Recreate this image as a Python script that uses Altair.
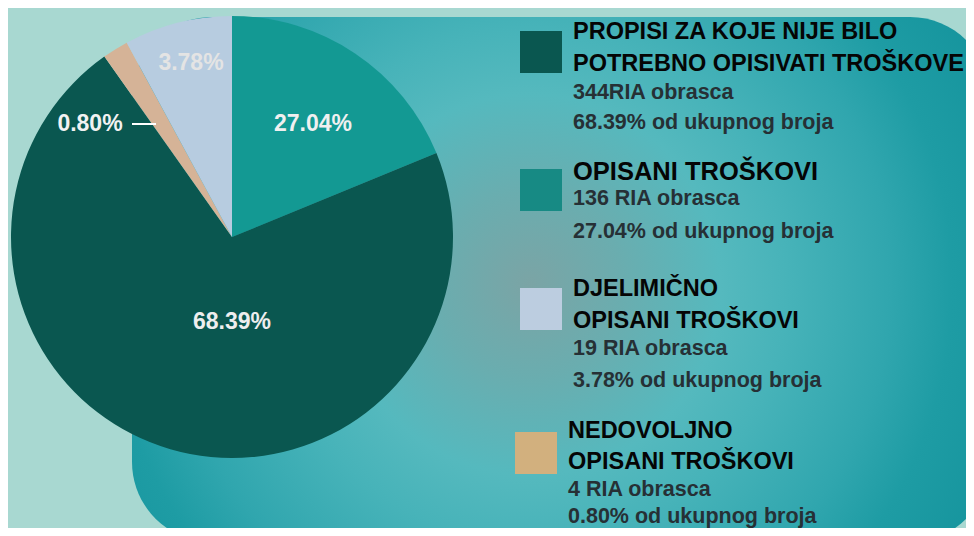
import altair as alt
import pandas as pd

# ---------------- data ----------------
# pie slices in drawing order (clockwise from 12 o'clock)
slice_names = ["OPISANI TROŠKOVI", "PROPISI ZA KOJE NIJE BILO POTREBNO OPISIVATI TROŠKOVE",
               "NEDOVOLJNO OPISANI TROŠKOVI", "DJELIMIČNO OPISANI TROŠKOVI"]
slice_share = [18.8, 71.4, 1.9, 7.9]          # share of the circle as drawn
slice_labels = ["27.04%", "68.39%", "0.80%", "3.78%"]
slice_colors = ["#139993", "#0a5750", "#d5b397", "#b7cce0"]
slice_label_colors = ["#f0f0f0", "#eeeeee", "#f2f2f2", "#e4e4e4"]

# legend entries (top to bottom)
legend_titles = [["PROPISI ZA KOJE NIJE BILO", "POTREBNO OPISIVATI TROŠKOVE"],
                 ["OPISANI TROŠKOVI"],
                 ["DJELIMIČNO", "OPISANI TROŠKOVI"],
                 ["NEDOVOLJNO", "OPISANI TROŠKOVI"]]
legend_counts = ["344RIA obrasca", "136 RIA obrasca", "19 RIA obrasca", "4 RIA obrasca"]
legend_pcts = ["68.39% od ukupnog broja", "27.04% od ukupnog broja",
               "3.78% od ukupnog broja", "0.80% od ukupnog broja"]
legend_colors = ["#0a5750", "#178a84", "#bccde0", "#d2b07e"]

# ---------------- layout (page pixels, converted to chart pixels) ----------------
M = 8  # page margin
W, H = 958, 520
FONT = "Liberation Sans"

pie_cx, pie_cy, pie_r = 232, 237, 221
label_pos = [(313, 124), (232, 322), (90, 124), (191, 63)]

sq_pos = [(520, 31), (520, 169), (520, 288), (515, 432)]
SQ = 42
text_x = [573, 573, 573, 568]
title_baselines = [[39, 71], [180], [296, 328], [438, 469]]
count_baselines = [99, 205, 355, 496]
pct_baselines = [129, 238, 387, 523]
title_sizes = [23.5, 25.5, 23.5, 23.5]

# ---------------- frames ----------------
pie_df = pd.DataFrame({
    "name": slice_names,
    "share": slice_share,
    "color": slice_colors,
    "order": list(range(len(slice_names))),
})

lab_df = pd.DataFrame({
    "label": slice_labels,
    "color": slice_label_colors,
    "x": [p[0] - M for p in label_pos],
    "y": [p[1] - M for p in label_pos],
})

sq_df = pd.DataFrame({
    "x": [p[0] - M for p in sq_pos],
    "x2": [p[0] - M + SQ for p in sq_pos],
    "y": [p[1] - M for p in sq_pos],
    "y2": [p[1] - M + SQ for p in sq_pos],
    "color": legend_colors,
})

rows = []
for i in range(4):
    for t, b in zip(legend_titles[i], title_baselines[i]):
        rows.append({"text": t, "x": text_x[i] - M, "y": b - M, "kind": "title", "size": title_sizes[i]})
    rows.append({"text": legend_counts[i], "x": text_x[i] - M, "y": count_baselines[i] - M, "kind": "sub", "size": 21.5})
    rows.append({"text": legend_pcts[i], "x": text_x[i] - M, "y": pct_baselines[i] - M, "kind": "sub", "size": 21.5})
leg_df = pd.DataFrame(rows)

# ---------------- layers ----------------
grad = alt.RadialGradient(
    gradient="radial",
    x1=0.464, y1=0.506, r1=0,
    x2=0.464, y2=0.506, r2=0.6,
    stops=[
        alt.GradientStop(offset=0.0, color="#7ba4a5"),
        alt.GradientStop(offset=0.18, color="#6aadaf"),
        alt.GradientStop(offset=0.37, color="#55b9be"),
        alt.GradientStop(offset=0.5, color="#47b3b9"),
        alt.GradientStop(offset=0.7, color="#30a6ae"),
        alt.GradientStop(offset=0.82, color="#1e9ca4"),
        alt.GradientStop(offset=1.0, color="#15949d"),
    ],
)

panel = alt.Chart(pd.DataFrame({"a": [0]})).mark_rect(
    color=grad, cornerRadius=80
).encode(
    x=alt.value(132 - M), x2=alt.value(990 - M),
    y=alt.value(17 - M), y2=alt.value(542 - M),
)

pie = alt.Chart(pie_df).mark_arc(outerRadius=pie_r, strokeWidth=0).encode(
    theta=alt.Theta("share:Q", stack=True),
    order=alt.Order("order:Q"),
    color=alt.Color("color:N", scale=None, legend=None),
    x=alt.value(pie_cx - M),
    y=alt.value(pie_cy - M),
)

labels = alt.Chart(lab_df).mark_text(
    font=FONT, fontSize=23, fontWeight="bold", align="center", baseline="middle"
).encode(
    x=alt.X("x:Q", scale=None, axis=None),
    y=alt.Y("y:Q", scale=None, axis=None),
    text="label:N",
    color=alt.Color("color:N", scale=None, legend=None),
)

leader = alt.Chart(pd.DataFrame({"a": [0]})).mark_rule(color="#ffffff", strokeWidth=2).encode(
    x=alt.value(132 - M), x2=alt.value(156 - M), y=alt.value(124 - M),
)

squares = alt.Chart(sq_df).mark_rect().encode(
    x=alt.X("x:Q", scale=None, axis=None), x2="x2:Q",
    y=alt.Y("y:Q", scale=None, axis=None), y2="y2:Q",
    color=alt.Color("color:N", scale=None, legend=None),
)

titles = alt.Chart(leg_df).transform_filter(alt.datum.kind == "title").mark_text(
    font=FONT, fontWeight="bold", align="left", baseline="alphabetic", color="#050505"
).encode(
    x=alt.X("x:Q", scale=None, axis=None),
    y=alt.Y("y:Q", scale=None, axis=None),
    text="text:N",
    size=alt.Size("size:Q", scale=None, legend=None),
)

subs = alt.Chart(leg_df).transform_filter(alt.datum.kind == "sub").mark_text(
    font=FONT, fontWeight="bold", align="left", baseline="alphabetic", color="#263035"
).encode(
    x=alt.X("x:Q", scale=None, axis=None),
    y=alt.Y("y:Q", scale=None, axis=None),
    text="text:N",
    size=alt.Size("size:Q", scale=None, legend=None),
)

chart = alt.layer(panel, pie, labels, leader, squares, titles, subs).properties(
    width=W, height=H, background="#a8d8d1", padding=0, autosize="none"
).configure_view(strokeWidth=0)

chart.save("out.html", embed_options={"renderer": "svg", "actions": False})
